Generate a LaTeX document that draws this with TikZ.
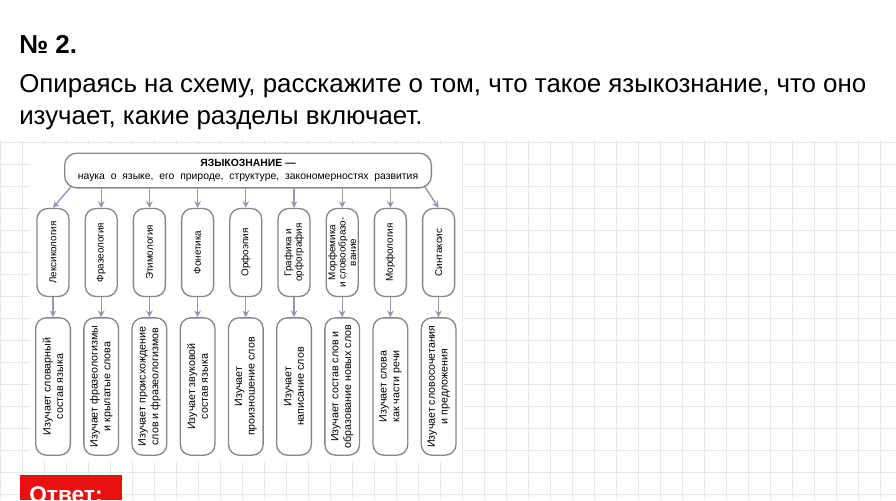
\documentclass[tikz,border=0pt]{standalone}
\usepackage{fontspec}
\setmainfont{Liberation Sans}
\usepackage{tikz}
\usetikzlibrary{arrows.meta}
\definecolor{arrowgray}{RGB}{150,150,180}
\definecolor{boxgray}{RGB}{135,135,140}
\definecolor{gridgray}{RGB}{232,232,236}
\definecolor{answerred}{RGB}{232,16,16}
\tikzset{
	branch/.style={draw=boxgray,line width=1pt,rounded corners=8pt,rotate=90,align=center,inner sep=1pt},
	link/.style={draw=arrowgray,line width=1pt,-{Stealth[length=5pt,width=5pt]}}
}
\begin{document}
\begin{tikzpicture}[x=0.75pt,y=-0.75pt]
	\useasboundingbox (0,0) rectangle (896,500);
	\clip (0,0) rectangle (896,500);
	\fill[white] (0,0) rectangle (896,500);
	% grid paper
	\foreach \gx in {0,22,...,896} \draw[gridgray,line width=0.5pt] (\gx,140) -- (\gx,500);
	\foreach \gy in {142,164,...,500} \draw[gridgray,line width=0.5pt] (0,\gy) -- (896,\gy);
	\node[anchor=base west,inner sep=0pt,font=\fontsize{19.5}{22}\selectfont\bfseries] (num) at (19,53) {№ 2.};
	\node[anchor=base west,inner sep=0pt,align=left,font=\fontsize{19.4}{24}\selectfont] (task) at (19,124)
		{Опираясь на схему, расскажите о том, что такое языкознание, что оно\\изучает, какие разделы включает.};
	\fill[white] (30,145) rectangle (462,462);
	% top box
	\node[draw=boxgray,line width=1pt,rounded corners=9pt,minimum width=275pt,minimum height=26pt,
		align=center,font=\fontsize{7.8}{10}\selectfont] (root) at (248,170.5)
		{\textbf{ЯЗЫКОЗНАНИЕ —}\\наука\ \ о\ \ языке,\ \ его\ \ природе,\ \ структуре,\ \ закономерностях\ \ развития};
	\foreach \i/\sci/\what in {
		1/Лексикология/{Изучает словарный\\состав языка},
		2/Фразеология/{Изучает фразеологизмы\\и крылатые слова},
		3/Этимология/{Изучает происхождение\\слов и фразеологизмов},
		4/Фонетика/{Изучает звуковой\\состав языка},
		5/Орфоэпия/{Изучает\\произношение слов},
		6/{Графика и\\орфография}/{Изучает\\написание слов},
		7/{Морфемика\\и словообразо-\\вание}/{Изучает состав слов и\\образование новых слов},
		8/Морфология/{Изучает слова\\как части речи},
		9/Синтаксис/{Изучает словосочетания\\и предложения}} {
		\node[branch,minimum width=66pt,minimum height=24pt,font=\fontsize{7.4}{7.8}\selectfont] (a\i) at ({53+48.2*(\i-1)},252.5) {\sci};
		\node[branch,minimum width=103pt,minimum height=26pt,font=\fontsize{8}{9.5}\selectfont] (b\i) at ({53+48.2*(\i-1)},386.5) {\what};
		\draw[link] (a\i) -- (b\i);
	}
	\foreach \i in {2,...,8} \draw[link] (root.south -| a\i) -- (a\i);
	\draw[link] (root.south west) ++(8,-3) coordinate (rl) -- (a1.east);
	\draw[link] (root.south east) ++(-8,-3) coordinate (rr) -- (a9.east);
	% answer label
	\fill[answerred] (20,475) rectangle (122,500);
	\node[anchor=base west,text=white,inner sep=0pt,font=\fontsize{17}{20}\selectfont\bfseries] (ans) at (29,502) {Ответ:};
\end{tikzpicture}
\end{document}
